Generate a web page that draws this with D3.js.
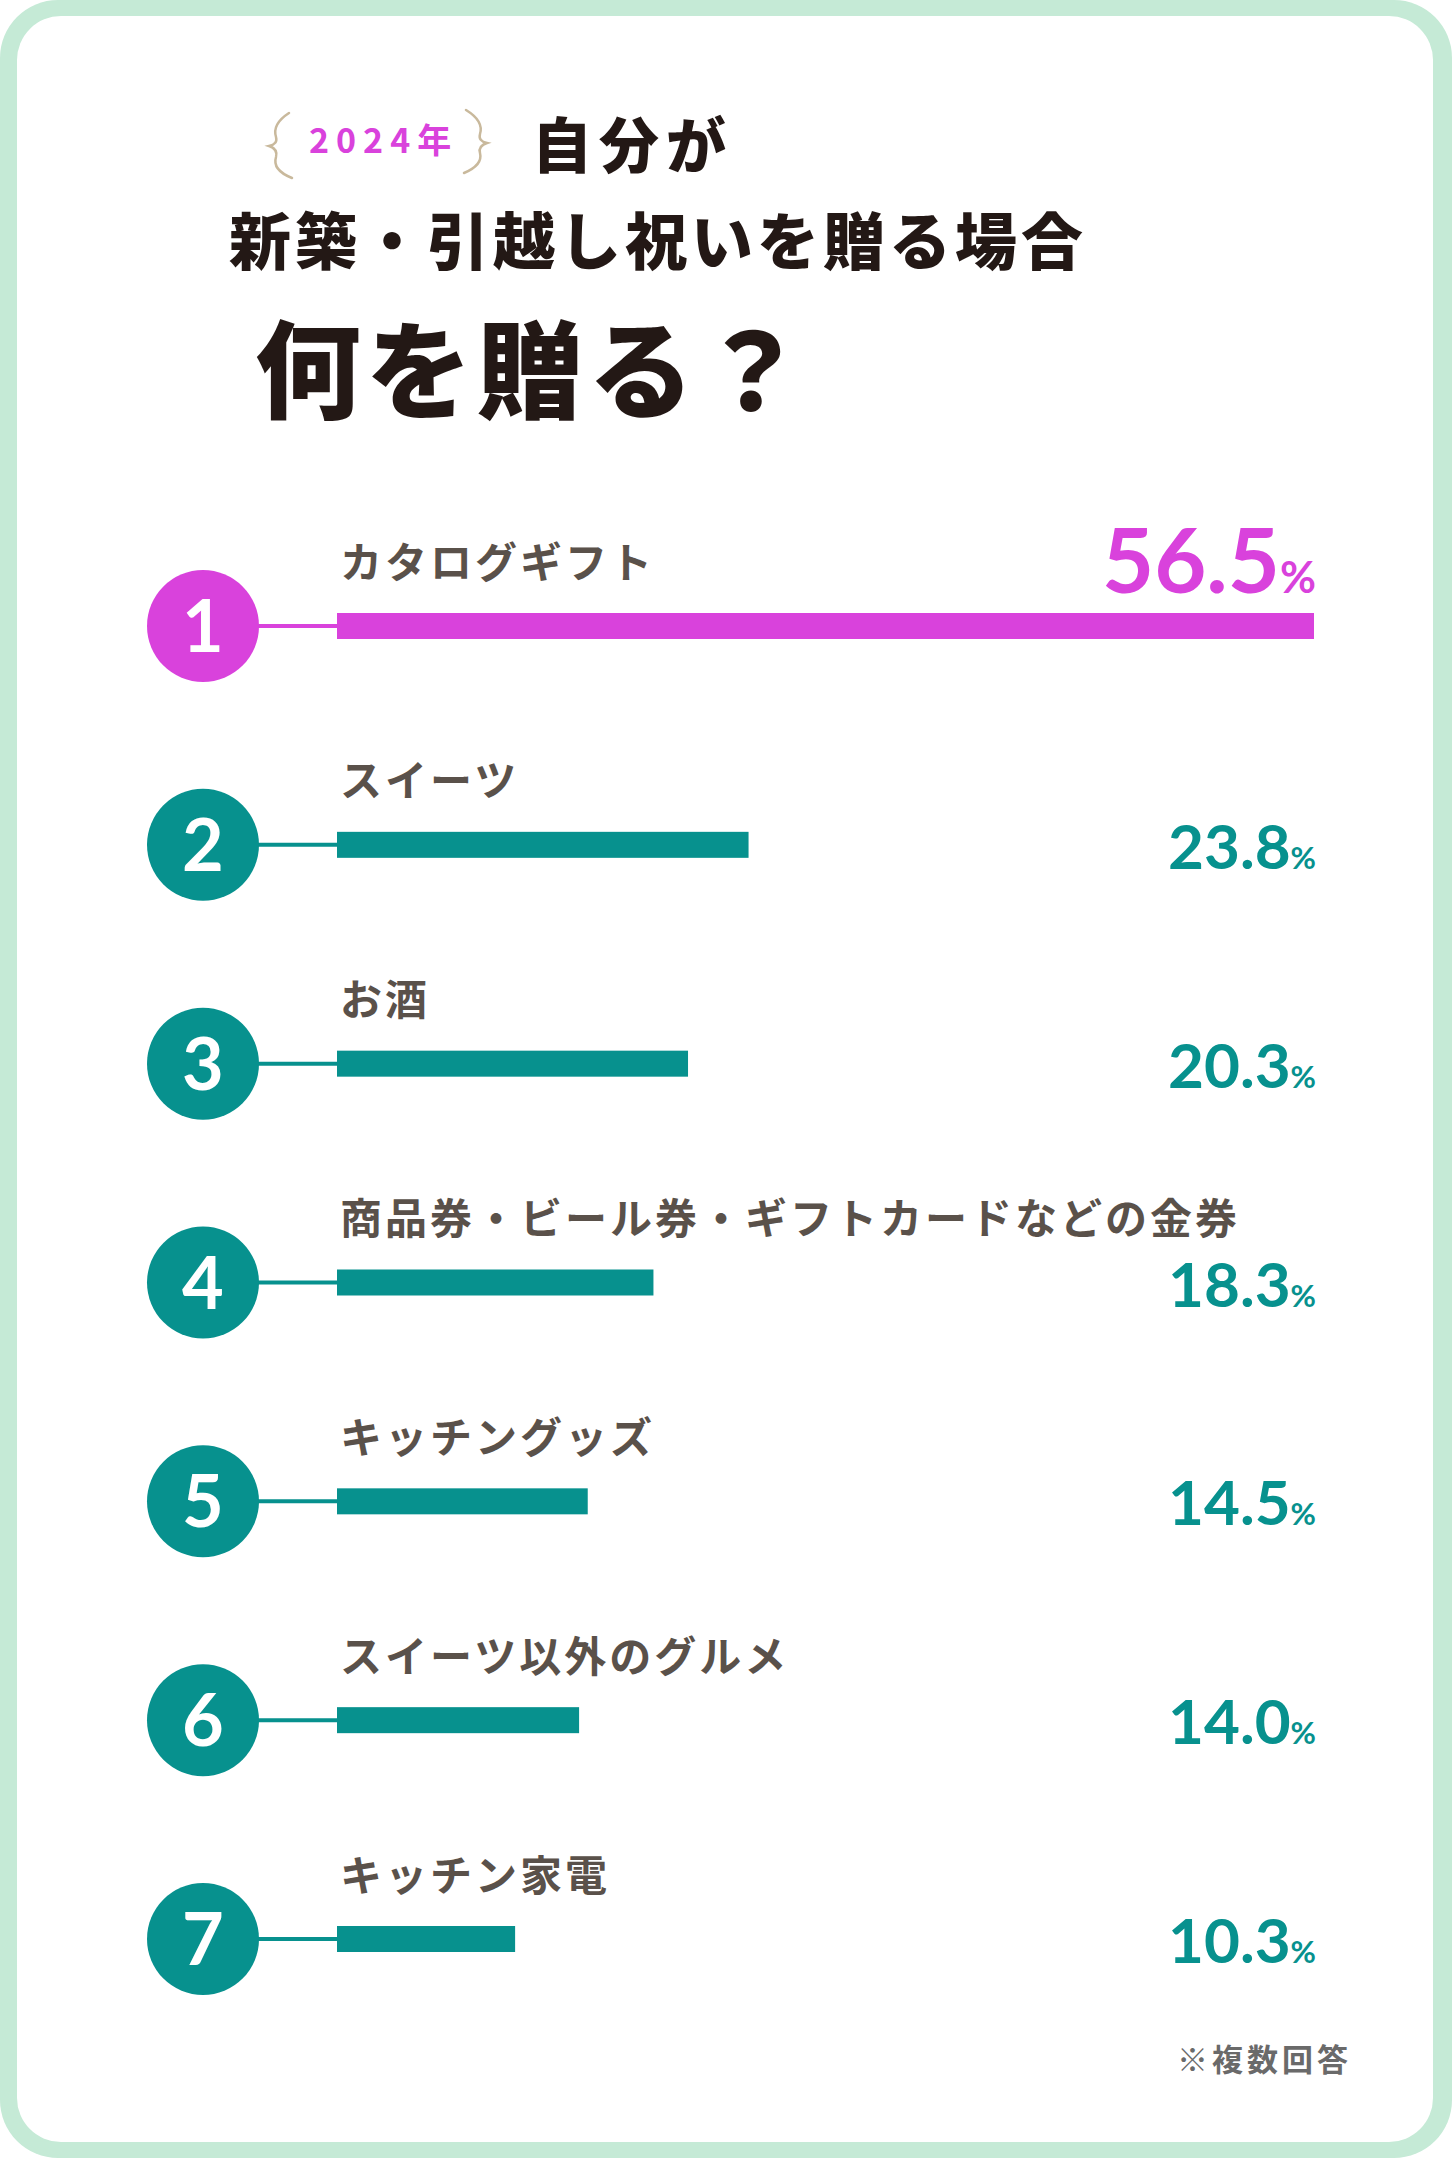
<!DOCTYPE html>
<html lang="ja">
<head>
<meta charset="utf-8">
<script src="https://cdn.jsdelivr.net/npm/d3@7"></script>
<style>
  html, body { margin: 0; padding: 0; background: #ffffff; }
  svg { display: block; }
</style>
</head>
<body>
<div id="chart"></div>
<script>
// ---- data ----
const categories = [
  "カタログギフト",
  "スイーツ",
  "お酒",
  "商品券・ビール券・ギフトカードなどの金券",
  "キッチングッズ",
  "スイーツ以外のグルメ",
  "キッチン家電"
];
const values = [56.5, 23.8, 20.3, 18.3, 14.5, 14.0, 10.3];
const ranks = [1, 2, 3, 4, 5, 6, 7];
const yearLabel = "2024年";
const titleLine1 = "自分が";
const titleLine2 = "新築・引越し祝いを贈る場合";
const titleLine3 = "何を贈る？";
const footnote = "※複数回答";

// ---- layout ----
const W = 1452, H = 2158;
const MAGENTA = "#d942dc";
const TEAL = "#07918e";
const BORDER = "#c5ead6";
const LABEL = "#5a514a";
const TITLE = "#231815";
const JP = "'Noto Sans CJK JP', 'Noto Sans', sans-serif";
const NUM = "Lato, 'Open Sans', sans-serif";

const svg = d3.select("#chart").append("svg")
  .attr("width", W).attr("height", H)
  .attr("viewBox", `0 0 ${W} ${H}`);

// frame
svg.append("rect").attr("x", 0).attr("y", 0).attr("width", W).attr("height", H)
  .attr("rx", 58).attr("fill", BORDER);
svg.append("rect").attr("x", 17).attr("y", 16).attr("width", W - 36).attr("height", H - 32)
  .attr("rx", 44).attr("fill", "#ffffff");

// title
const title = svg.append("g");
title.append("path")
  .attr("d", "M 289 113 Q 272 124 276 137 Q 278 144 269 146 Q 278 149 276 157 Q 272 170 292 178")
  .attr("fill", "none").attr("stroke", "#c9b99c").attr("stroke-width", 2.5).attr("stroke-linecap", "round");
title.append("path")
  .attr("d", "M 466 110 Q 484 121 480 134 Q 478 141 487 143 Q 478 146 480 153 Q 483 165 464 173")
  .attr("fill", "none").attr("stroke", "#c9b99c").attr("stroke-width", 2.5).attr("stroke-linecap", "round");
title.append("text")
  .attr("x", 309).attr("y", 138)
  .attr("dominant-baseline", "central")
  .attr("font-family", JP).attr("font-weight", 700).attr("font-size", 34)
  .attr("letter-spacing", 7)
  .attr("fill", MAGENTA).text(yearLabel);
title.append("text")
  .attr("x", 532).attr("y", 141)
  .attr("dominant-baseline", "central")
  .attr("font-family", JP).attr("font-weight", 900).attr("font-size", 60)
  .attr("letter-spacing", 7)
  .attr("fill", TITLE).text(titleLine1);
title.append("text")
  .attr("x", 229).attr("y", 238)
  .attr("dominant-baseline", "central")
  .attr("font-family", JP).attr("font-weight", 900).attr("font-size", 62)
  .attr("letter-spacing", 4)
  .attr("fill", TITLE).text(titleLine2);
title.append("text")
  .attr("x", 255).attr("y", 364)
  .attr("dominant-baseline", "central")
  .attr("font-family", JP).attr("font-weight", 900).attr("font-size", 106)
  .attr("letter-spacing", 5)
  .attr("fill", TITLE).text(titleLine3);

// scales
const x = d3.scaleLinear().domain([0, d3.max(values)]).range([337, 1314]);
const y = d3.scalePoint().domain(ranks).range([626, 1939]);
const circleX = 203, circleR = 56, barH = 26;

const rows = svg.append("g").selectAll("g")
  .data(ranks.map((r, i) => ({ rank: r, cat: categories[i], val: values[i] })))
  .join("g")
  .attr("transform", d => `translate(0,${y(d.rank)})`);

const colorOf = d => d.rank === 1 ? MAGENTA : TEAL;

rows.append("line")
  .attr("x1", circleX).attr("x2", x(0))
  .attr("y1", 0).attr("y2", 0)
  .attr("stroke", colorOf).attr("stroke-width", 4);

rows.append("rect")
  .attr("x", x(0)).attr("y", -barH / 2)
  .attr("width", d => x(d.val) - x(0)).attr("height", barH)
  .attr("fill", colorOf);

rows.append("circle")
  .attr("cx", circleX).attr("cy", 0).attr("r", circleR)
  .attr("fill", colorOf);

rows.append("text")
  .attr("x", circleX).attr("y", 26)
  .attr("text-anchor", "middle")
  .attr("font-family", NUM).attr("font-weight", 700).attr("font-size", 72)
  .attr("fill", "#ffffff")
  .text(d => d.rank);

rows.append("text")
  .attr("x", 340).attr("y", -67)
  .attr("dominant-baseline", "central")
  .attr("font-family", JP).attr("font-weight", 700).attr("font-size", 42)
  .attr("letter-spacing", 3)
  .attr("fill", LABEL)
  .text(d => d.cat);

const pct = rows.append("text")
  .attr("x", 1316)
  .attr("y", d => d.rank === 1 ? -33 : 24)
  .attr("text-anchor", "end")
  .attr("font-family", NUM).attr("font-weight", 700)
  .attr("fill", colorOf);
pct.append("tspan")
  .attr("font-size", d => d.rank === 1 ? 90 : 62)
  .text(d => d.val.toFixed(1));
pct.append("tspan")
  .attr("font-size", d => d.rank === 1 ? 44 : 31)
  .text("%");

// footnote
svg.append("text")
  .attr("x", 1352).attr("y", 2057)
  .attr("text-anchor", "end")
  .attr("dominant-baseline", "central")
  .attr("font-family", JP).attr("font-weight", 700).attr("font-size", 31)
  .attr("letter-spacing", 4)
  .attr("fill", "#6a6a6a")
  .text(footnote);
</script>
</body>
</html>
